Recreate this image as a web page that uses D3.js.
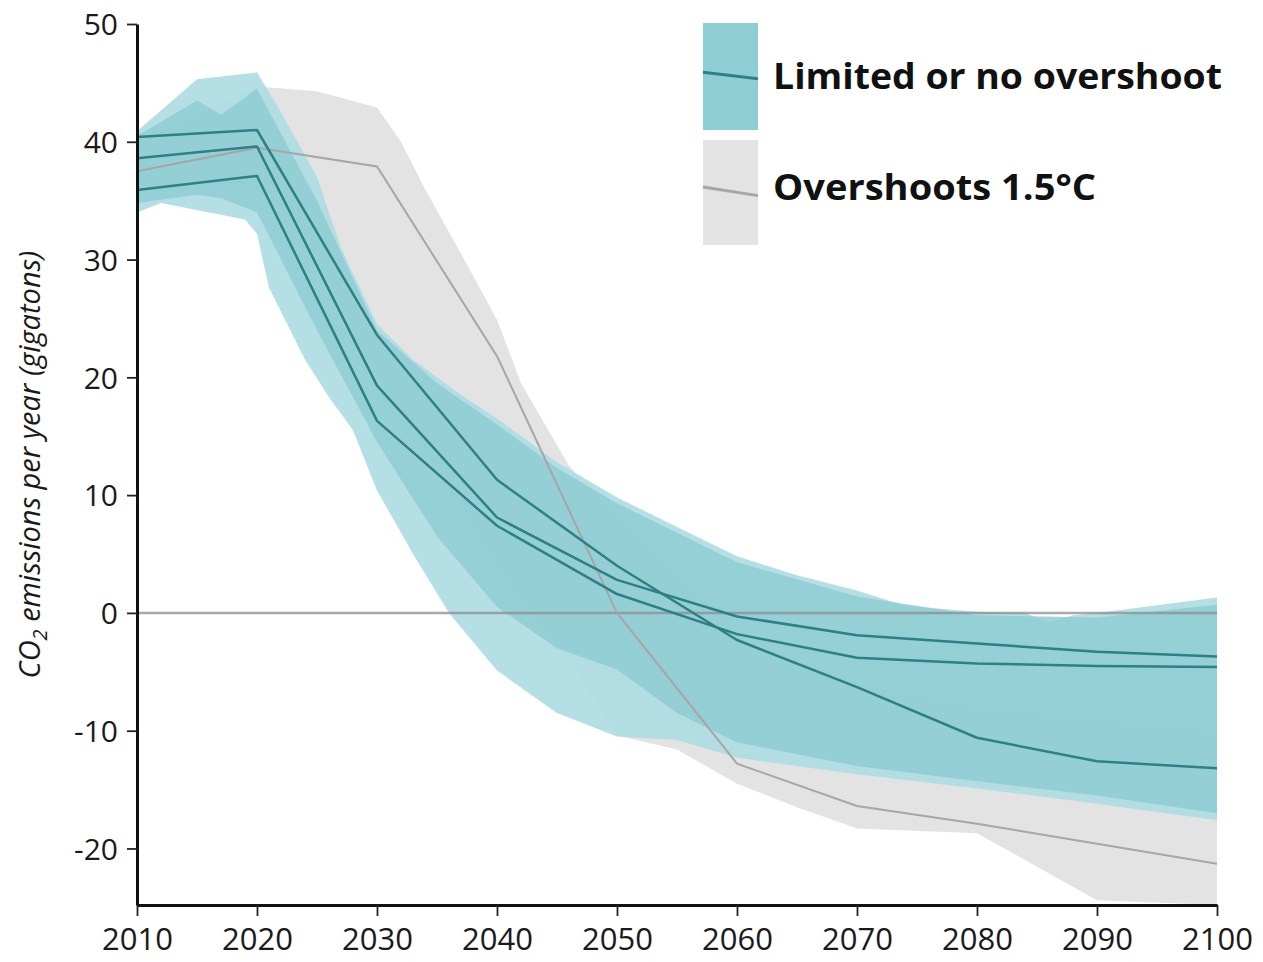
<!DOCTYPE html>
<html lang="en">
<head>
<meta charset="utf-8">
<title>CO2 emission pathways</title>
<script src="https://d3js.org/d3.v7.min.js"></script>
<style>
  body { margin: 0; background: #fff; }
  svg { display: block; }
</style>
</head>
<body>
<div id="chart"></div>
<script>
// illustrative pathways, decadal values (GtCO2/yr)
const years = [2010, 2020, 2030, 2040, 2050, 2060, 2070, 2080, 2090, 2100];
const p1 = [35.9, 37.1, 16.3, 7.4, 1.6, -1.8, -3.8, -4.3, -4.5, -4.6];
const p2 = [38.6, 39.6, 19.3, 8.1, 2.8, -0.3, -1.9, -2.6, -3.3, -3.7];
const p3 = [40.4, 41.0, 23.6, 11.3, 4.0, -2.3, -6.3, -10.6, -12.6, -13.2];
const p4 = [37.5, 39.5, 37.9, 21.8, 0.0, -12.8, -16.4, -17.9, -19.6, -21.3];

// limited / no overshoot envelope
const tealMaxYears = [2010, 2015, 2020, 2022, 2025, 2027, 2030, 2033, 2037, 2040, 2045, 2050, 2055, 2060, 2065, 2070, 2074, 2080, 2084, 2086, 2088, 2090, 2100];
const tealMax = [40.9, 45.3, 45.9, 42.5, 37, 31, 24.5, 21.5, 18.5, 16.5, 12.8, 9.8, 7.3, 4.8, 3.2, 1.9, 0.6, 0.1, 0, -0.8, -0.2, 0, 1.3];
const tealMinYears = [2010, 2012, 2019, 2020, 2021, 2024, 2026, 2028, 2030, 2033, 2036, 2040, 2045, 2050, 2055, 2060, 2070, 2080, 2090, 2100];
const tealMin = [34, 34.8, 33.4, 32.2, 27.6, 21.5, 18.3, 15.5, 10.4, 5, 0, -4.9, -8.5, -10.5, -10.8, -12.3, -13.7, -14.9, -16.2, -17.6];

// denser core of the limited / no overshoot scenarios
const coreYears = [2010, 2015, 2017, 2020, 2025, 2030, 2035, 2040, 2045, 2050, 2055, 2060, 2070, 2080, 2090, 2100];
const coreHigh = [40.5, 43.5, 42.3, 44.5, 35, 24, 19.5, 16, 12.3, 9.3, 6.8, 4.3, 1.4, -0.2, -0.4, 0.7];
const coreLow = [34.8, 35.5, 35.2, 34, 24, 14.5, 6.5, 0.5, -3, -4.8, -8.5, -11, -13, -14.3, -15.5, -17];

// overshoot envelope
const greyYears = [2010, 2020, 2025, 2030, 2032, 2034, 2037, 2040, 2042, 2046, 2050, 2055, 2060, 2065, 2070, 2080, 2090, 2100];
const greyHigh = [40, 44.7, 44.3, 42.9, 40, 36, 30.5, 24.9, 19.5, 12.5, 8, 3, -1, -4, -6, -8, -9, -10];
const greyLow = [36, 36, 30, 20, 17, 14, 9, 4, 1, -4, -10.4, -11.6, -14.5, -16.5, -18.3, -18.7, -24.4, -24.8];

const xTicks = [2010, 2020, 2030, 2040, 2050, 2060, 2070, 2080, 2090, 2100];
const yTicks = [-20, -10, 0, 10, 20, 30, 40, 50];
const legendLabels = ["Limited or no overshoot", "Overshoots 1.5°C"];

const width = 1263, height = 962;
const margin = {top: 24, right: 46, bottom: 57, left: 137};

const tealDark = "#2d8085", tealCore = "#8fcdd4", tealLight = "#aedee3";
const greyBand = "#e3e3e3", greyLine = "#a6a6a6";

const x = d3.scaleLinear().domain([2010, 2100]).range([margin.left, width - margin.right]);
const y = d3.scaleLinear().domain([-24.8, 50]).range([height - margin.bottom, margin.top]);

const svg = d3.select("#chart").append("svg")
    .attr("width", width)
    .attr("height", height)
    .attr("font-family", "'Open Sans', 'Noto Sans', sans-serif");

svg.append("clipPath").attr("id", "plot")
  .append("rect")
    .attr("x", margin.left).attr("y", margin.top)
    .attr("width", width - margin.left - margin.right)
    .attr("height", height - margin.top - margin.bottom);

function band(ys, hi, lo) {
  return ys.map((yr, i) => ({yr, hi: hi[i], lo: lo[i]}));
}
// upper and lower edges read at different years
function envelope(ysHi, hi, ysLo, lo) {
  const top = ysHi.map((yr, i) => [x(yr), y(hi[i])]);
  const bot = ysLo.map((yr, i) => [x(yr), y(lo[i])]).reverse();
  return "M" + top.concat(bot).join("L") + "Z";
}

const area = d3.area().x(d => x(d.yr)).y0(d => y(d.lo)).y1(d => y(d.hi));
const line = d3.line().x((d, i) => x(years[i])).y(d => y(d));

const g = svg.append("g").attr("clip-path", "url(#plot)");

g.append("path")
    .attr("d", area(band(greyYears, greyHigh, greyLow)))
    .attr("fill", greyBand);

g.append("path")
    .attr("d", envelope(tealMaxYears, tealMax, tealMinYears, tealMin))
    .attr("fill", tealLight)
    .attr("fill-opacity", 0.93);

g.append("path")
    .attr("d", area(band(coreYears, coreHigh, coreLow)))
    .attr("fill", tealCore)
    .attr("fill-opacity", 0.85);

// zero line
g.append("line")
    .attr("x1", x(2010)).attr("x2", x(2100))
    .attr("y1", y(0)).attr("y2", y(0))
    .attr("stroke", "#8c8c8c")
    .attr("stroke-opacity", 0.75)
    .attr("stroke-width", 2.5);

g.append("path")
    .attr("d", line(p4))
    .attr("fill", "none")
    .attr("stroke", greyLine)
    .attr("stroke-width", 2);

[p1, p2, p3].forEach(p => {
  g.append("path")
      .attr("d", line(p))
      .attr("fill", "none")
      .attr("stroke", tealDark)
      .attr("stroke-width", 2.5)
      .attr("stroke-linejoin", "round");
});

// axes
const xAxis = svg.append("g")
    .attr("transform", `translate(0,${height - margin.bottom})`)
    .call(d3.axisBottom(x).tickValues(xTicks).tickFormat(d => String(d)).tickSize(11).tickSizeOuter(0).tickPadding(12));

const yAxis = svg.append("g")
    .attr("transform", `translate(${margin.left},0)`)
    .call(d3.axisLeft(y).tickValues(yTicks).tickFormat(d => String(d)).tickSize(10).tickSizeOuter(0).tickPadding(9));

[xAxis, yAxis].forEach(a => {
  a.select(".domain").attr("stroke", "#111").attr("stroke-width", 3);
  a.selectAll(".tick line").attr("stroke", "#222").attr("stroke-width", 1.8);
  a.selectAll(".tick text").attr("fill", "#1a1a1a").attr("font-family", "'Open Sans', sans-serif");
});
xAxis.selectAll(".tick text").attr("font-size", 31);
yAxis.selectAll(".tick text").attr("font-size", 30).attr("dy", "0.36em");

// y title
const title = svg.append("text")
    .attr("transform", `translate(40,${(y(50) + y(-24.8)) / 2}) rotate(-90)`)
    .attr("text-anchor", "middle")
    .attr("font-style", "italic")
    .attr("font-size", 29)
    .attr("fill", "#1a1a1a");
title.append("tspan").text("CO");
title.append("tspan").text("2").attr("font-size", 20).attr("dy", 7);
title.append("tspan").text(" emissions per year (gigatons)").attr("dy", -7);

// legend
const lg = svg.append("g").attr("transform", "translate(703,23)");
const sw = 55, sh = 107;
lg.append("rect").attr("width", sw).attr("height", sh).attr("fill", tealCore);
lg.append("line").attr("x1", 0).attr("x2", sw).attr("y1", sh * 0.46).attr("y2", sh * 0.52)
    .attr("stroke", tealDark).attr("stroke-width", 3);
lg.append("rect").attr("y", sh + 10).attr("width", sw).attr("height", sh - 2).attr("fill", greyBand);
lg.append("line").attr("x1", 0).attr("x2", sw).attr("y1", sh + 10 + sh * 0.44).attr("y2", sh + 10 + sh * 0.52)
    .attr("stroke", greyLine).attr("stroke-width", 3);

lg.selectAll("text.lbl")
  .data(legendLabels)
  .join("text")
    .attr("class", "lbl")
    .attr("x", sw + 15)
    .attr("y", (d, i) => 66 + i * 111)
    .attr("font-weight", "bold")
    .attr("font-size", 36)
    .attr("fill", "#111")
    .attr("textLength", (d, i) => i === 0 ? 449 : 323)
    .attr("lengthAdjust", "spacingAndGlyphs")
    .text(d => d);
</script>
</body>
</html>
